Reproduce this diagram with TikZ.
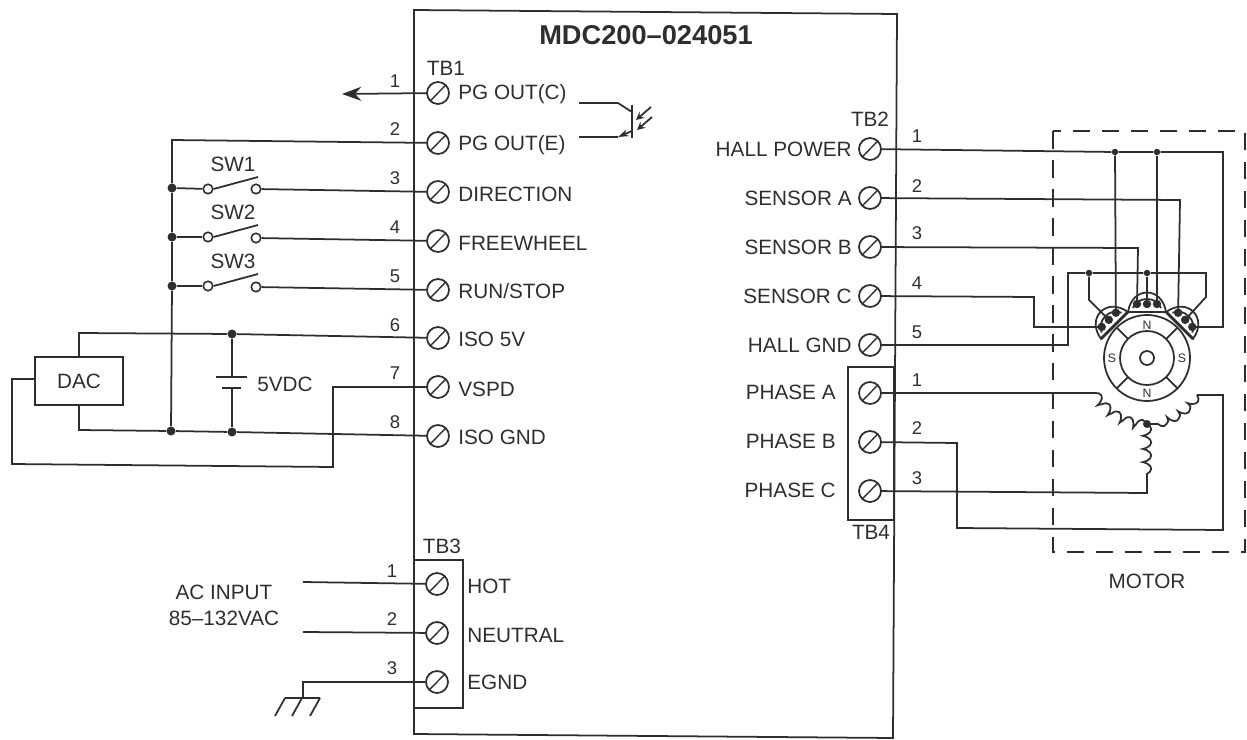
\documentclass[tikz,border=0pt]{standalone}
\usepackage{fontspec}
\setmainfont{Liberation Sans}
\usetikzlibrary{calc, arrows.meta, decorations.pathmorphing}
\definecolor{mainBlack}{gray}{0.18}
\tikzset{
    wire/.style={line width=1pt, mainBlack},
    screw/.style={circle, draw=mainBlack, line width=1pt, minimum size=0.44cm, inner sep=0pt,
        path picture={\draw[mainBlack, line width=0.8pt] ($(path picture bounding box.south west)+(0.06,0.06)$) -- ($(path picture bounding box.north east)+(-0.06,-0.06)$);}},
    txt/.style={text=mainBlack, font=\fontsize{11.8}{13}\selectfont, inner sep=0pt},
    pinno/.style={text=mainBlack, font=\fontsize{10.5}{12}\selectfont, inner sep=0pt},
    junction/.style={circle, fill=mainBlack, inner sep=0pt, minimum size=0.18cm},
    contact/.style={circle, draw=mainBlack, fill=white, line width=0.9pt, inner sep=0pt, minimum size=0.19cm},
    coilwire/.style={wire, decorate, decoration={coil, aspect=0.45, amplitude=2.4pt, segment length=7.5pt}},
    hallsensor/.pic={
        \coordinate (-a) at (-10,-54);
        \coordinate (-b) at (0,-54);
        \coordinate (-c) at (10,-54);
        \draw[wire, fill=white] (-19,-46) .. controls (-15,-72) and (15,-72) .. (19,-46) -- cycle;
        \draw[wire] (-14,-50) .. controls (-10,-62) and (10,-62) .. (14,-50);
        \draw[mainBlack, line width=1.6pt] (-19,-46) -- (19,-46);
        \fill[mainBlack] (-10,-54) circle (4.2) (0,-54) circle (4.2) (10,-54) circle (4.2);
    }
}

\begin{document}
\begin{tikzpicture}[x=0.02cm, y=-0.02cm, >=stealth]
    \useasboundingbox (0,0) rectangle (1247,740);

    % driver case
    \coordinate (CaseTL) at (414,10);
    \coordinate (CaseTR) at (897,14);
    \coordinate (CaseBR) at (893,738);
    \coordinate (CaseBL) at (414,734);
    \draw[wire] (CaseTL) -- (CaseTR) -- (CaseBR) -- (CaseBL) -- cycle;
    \node[text=mainBlack, inner sep=0pt, font=\fontsize{15.5}{18}\selectfont\bfseries] (Title) at (646,35) {MDC200–024051};

    % terminal blocks
    \draw[wire] (414,560) -- (463,560) -- (463,708) -- (414,708);
    \draw[wire] (848,367) rectangle (894,520);
    \node[txt] (TBa) at (446,68) {TB1};
    \node[txt] (TBb) at (870,119) {TB2};
    \node[txt] (TBc) at (442,546) {TB3};
    \node[txt] (TBd) at (871,532) {TB4};

    % TB1
    \node[screw] (A1) at (438,93) {};
    \node[screw] (A2) at (438,143) {};
    \node[screw] (A3) at (438,192) {};
    \node[screw] (A4) at (438,241) {};
    \node[screw] (A5) at (438,290) {};
    \node[screw] (A6) at (438,338) {};
    \node[screw] (A7) at (438,387) {};
    \node[screw] (A8) at (438,436) {};
    \node[txt, anchor=west] (LA1) at (458,94) {PG OUT(C)};
    \node[txt, anchor=west] (LA2) at (458,145) {PG OUT(E)};
    \node[txt, anchor=west] (LA3) at (458,194) {DIRECTION};
    \node[txt, anchor=west] (LA4) at (458,243) {FREEWHEEL};
    \node[txt, anchor=west] (LA5) at (458,291) {RUN/STOP};
    \node[txt, anchor=west] (LA6) at (458,339) {ISO 5V};
    \node[txt, anchor=west] (LA7) at (458,389) {VSPD};
    \node[txt, anchor=west] (LA8) at (458,437) {ISO GND};
    \node[pinno] (NA1) at (395,81) {1};
    \node[pinno] (NA2) at (395,129) {2};
    \node[pinno] (NA3) at (395,178) {3};
    \node[pinno] (NA4) at (395,227) {4};
    \node[pinno] (NA5) at (395,276) {5};
    \node[pinno] (NA6) at (395,325) {6};
    \node[pinno] (NA7) at (395,373) {7};
    \node[pinno] (NA8) at (395,422) {8};

    % TB2 and TB4
    \node[screw] (B1) at (870,149) {};
    \node[screw] (B2) at (870,198) {};
    \node[screw] (B3) at (870,247) {};
    \node[screw] (B4) at (870,296) {};
    \node[screw] (B5) at (870,345) {};
    \node[screw] (P1) at (870,393) {};
    \node[screw] (P2) at (870,442) {};
    \node[screw] (P3) at (870,491) {};
    \node[txt, anchor=east] (LB1) at (852,149) {HALL POWER};
    \node[txt, anchor=east] (LB2) at (852,198) {SENSOR A};
    \node[txt, anchor=east] (LB3) at (852,247) {SENSOR B};
    \node[txt, anchor=east] (LB4) at (852,296) {SENSOR C};
    \node[txt, anchor=east] (LB5) at (852,345) {HALL GND};
    \node[txt, anchor=east] (LP1) at (836,392) {PHASE A};
    \node[txt, anchor=east] (LP2) at (836,441) {PHASE B};
    \node[txt, anchor=east] (LP3) at (836,490) {PHASE C};
    \node[pinno] (NB1) at (917,136) {1};
    \node[pinno] (NB2) at (917,186) {2};
    \node[pinno] (NB3) at (917,233) {3};
    \node[pinno] (NB4) at (917,283) {4};
    \node[pinno] (NB5) at (917,332) {5};
    \node[pinno] (NP1) at (917,380) {1};
    \node[pinno] (NP2) at (917,428) {2};
    \node[pinno] (NP3) at (917,478) {3};

    % TB3
    \node[screw] (C1) at (437,584) {};
    \node[screw] (C2) at (437,633) {};
    \node[screw] (C3) at (437,682) {};
    \node[txt, anchor=west] (LC1) at (467,586) {HOT};
    \node[txt, anchor=west] (LC2) at (467,635) {NEUTRAL};
    \node[txt, anchor=west] (LC3) at (467,682) {EGND};
    \node[pinno] (NC1) at (392,571) {1};
    \node[pinno] (NC2) at (392,619) {2};
    \node[pinno] (NC3) at (392,668) {3};

    % AC input
    \node[txt] (ACa) at (224,592) {AC INPUT};
    \node[txt] (ACb) at (224,618) {85–132VAC};
    \coordinate (ACHot) at (303,582);
    \coordinate (ACNeu) at (303,632);
    \coordinate (Gnd) at (303,682);
    \coordinate (GndBar) at (303,698);
    \draw[wire] (ACHot) -- (C1);
    \draw[wire] (ACNeu) -- (C2);
    \draw[wire] (C3) -- (Gnd) -- (GndBar);
    \draw[wire] (285,698) -- (320,698);
    \draw[wire] (285,698) -- (275,716);
    \draw[wire] (302,698) -- (292,716);
    \draw[wire] (320,698) -- (310,716);

    % PG output
    \coordinate (PGOut) at (342,94);
    \draw[wire, -{Stealth[length=11pt, width=8pt]}] (A1) -- (PGOut);
    \draw[wire] (579,103) -- (618,103) -- (632,112);
    \draw[wire, {Stealth[length=6pt, width=4pt]}-] (618,137) -- (632,131);
    \draw[wire] (579,137) -- (618,137);
    \draw[wire] (632,105) -- (632,138);
    \draw[wire, <-] (636,120) -- (651,107);
    \draw[wire, <-] (637,130) -- (652,117);

    % switches
    \node[junction] (JS1) at (172,188) {};
    \node[junction] (JS2) at (172,237) {};
    \node[junction] (JS3) at (172,286) {};
    \node[junction] (JGnd) at (171,431) {};
    \node[junction] (JBatTop) at (232,334) {};
    \node[junction] (JBatBot) at (232,432) {};
    \coordinate (Bus) at (172,140);
    \draw[wire] (A2) -- (Bus) -- (JS1) -- (JS2) -- (JS3) -- (JGnd);
    \node[contact] (Sa1) at (208,189) {};
    \node[contact] (Sa2) at (256,189) {};
    \node[contact] (Sb1) at (208,237) {};
    \node[contact] (Sb2) at (256,238) {};
    \node[contact] (Sc1) at (208,286) {};
    \node[contact] (Sc2) at (256,287) {};
    \draw[wire] (JS1) -- (Sa1);
    \draw[wire] (JS2) -- (Sb1);
    \draw[wire] (JS3) -- (Sc1);
    \draw[wire] (Sa2) -- (A3);
    \draw[wire] (Sb2) -- (A4);
    \draw[wire] (Sc2) -- (A5);
    \draw[wire] (Sa1.east) -- (258,177);
    \draw[wire] (Sb1.east) -- (258,225);
    \draw[wire] (Sc1.east) -- (258,274);
    \node[txt] (LSa) at (233,164) {SW1};
    \node[txt] (LSb) at (233,212) {SW2};
    \node[txt] (LSc) at (233,261) {SW3};

    % DAC and supply
    \node[draw=mainBlack, line width=1pt, minimum width=1.76cm, minimum height=0.96cm, inner sep=0pt, text=mainBlack,
        font=\fontsize{11.8}{13}\selectfont] (DAC) at (79,381) {DAC};
    \coordinate (DacTop) at (79,333);
    \coordinate (DacBot) at (79,430);
    \coordinate (DacOutA) at (12,379);
    \coordinate (DacOutB) at (12,464);
    \coordinate (VspdA) at (333,467);
    \coordinate (VspdB) at (333,387);
    \draw[wire] (DAC.north) -- (DacTop) -- (JBatTop) -- (A6);
    \draw[wire] (DAC.south) -- (DacBot) -- (JGnd) -- (JBatBot) -- (A8);
    \draw[wire] (DAC.west |- DacOutA) -- (DacOutA) -- (DacOutB) -- (VspdA) -- (VspdB) -- (A7);
    \coordinate (BatP) at (232,377);
    \coordinate (BatN) at (232,388);
    \draw[wire] (JBatTop) -- (BatP);
    \draw[wire] (BatN) -- (JBatBot);
    \draw[wire] (216,377) -- (247,377);
    \draw[wire] (222,388) -- (241,388);
    \node[txt, anchor=west] (LBat) at (257,384) {5VDC};

    % motor
    \draw[wire, dash pattern=on 10pt off 6.5pt] (1053,131) rectangle (1245,552);
    \node[txt] (LMotor) at (1147,581) {MOTOR};
    \coordinate (Rotor) at (1147,358);
    \draw[wire] (Rotor) circle (43);
    \draw[wire] (Rotor) circle (27);
    \draw[wire] (Rotor) circle (7);
    \draw[wire] (1147,358) ++(-19,-19) -- ++(-11.5,-11.5);
    \draw[wire] (1147,358) ++(19,-19) -- ++(11.5,-11.5);
    \draw[wire] (1147,358) ++(-19,19) -- ++(-11.5,11.5);
    \draw[wire] (1147,358) ++(19,19) -- ++(11.5,11.5);
    \node[pinno, font=\fontsize{7}{8}\selectfont] (RN1) at (1147,325) {N};
    \node[pinno, font=\fontsize{7}{8}\selectfont] (RN2) at (1147,393) {N};
    \node[pinno, font=\fontsize{7}{8}\selectfont] (RS1) at (1112,358) {S};
    \node[pinno, font=\fontsize{7}{8}\selectfont] (RS2) at (1182,358) {S};

    % hall sensors
    \pic (HL) at (Rotor) [rotate=45] {hallsensor};
    \pic (HT) at (Rotor) {hallsensor};
    \pic (HR) at (Rotor) [rotate=-45] {hallsensor};
    \node[junction, minimum size=0.13cm] (JPa) at (1115,152) {};
    \node[junction, minimum size=0.13cm] (JPb) at (1157,152) {};
    \node[junction, minimum size=0.13cm] (JGa) at (1089,273) {};
    \node[junction, minimum size=0.13cm] (JGb) at (1147,273) {};
    \coordinate (PwrEnd) at (1223,152);
    \draw[wire] (B1) -- (JPa) -- (JPb) -- (PwrEnd) -- (1223,327) -- (HR-c);
    \draw[wire] (JPa) -- (HL-c);
    \draw[wire] (JPb) -- (HT-c);
    \draw[wire] (B2) -- (1180,200) -- (HR-a);
    \draw[wire] (B3) -- (1138,248) -- (HT-a);
    \draw[wire] (B4) -- (1034,297) -- (1034,327) -- (HL-a);
    \draw[wire] (B5) -- (1068,345) -- (1068,273) -- (JGa) -- (JGb) -- (1206,273) -- (1206,297) -- (HR-b);
    \draw[wire] (JGa) -- (1089,300) -- (HL-b);
    \draw[wire] (JGb) -- (HT-b);

    % windings
    \coordinate (Star) at (1147,424);
    \coordinate (CoilA) at (1095,393);
    \coordinate (CoilB) at (1197,395);
    \coordinate (CoilC) at (1147,475);
    \draw[coilwire] (CoilA) .. controls (1108,414) and (1128,424) .. (Star);
    \draw[coilwire] (CoilB) .. controls (1186,414) and (1166,424) .. (Star);
    \draw[coilwire] (Star) -- (CoilC);
    \node[junction, minimum size=0.16cm] (JStar) at (Star) {};
    \draw[wire] (P1) -- (CoilA);
    \draw[wire] (CoilB) -- (1223,395) -- (1223,530) -- (957,528) -- (957,443) -- (P2);
    \draw[wire] (P3) -- (1147,493) -- (CoilC);
\end{tikzpicture}
\end{document}
